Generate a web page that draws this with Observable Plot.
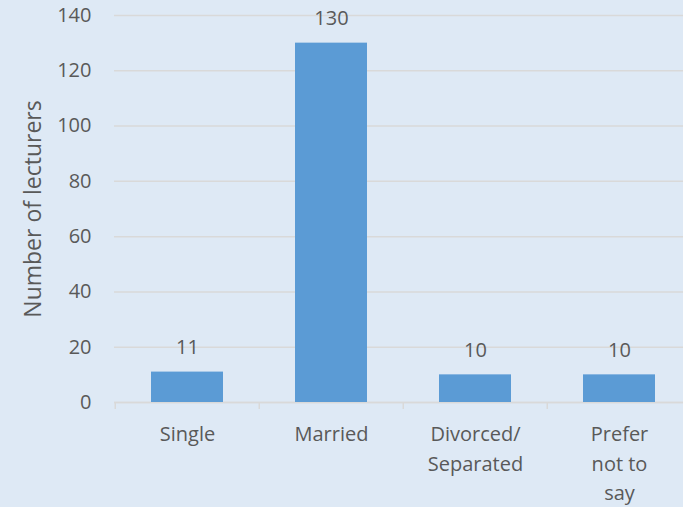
<!DOCTYPE html>
<html>
<head>
<meta charset="utf-8">
<script src="https://cdn.jsdelivr.net/npm/d3@7"></script>
<script src="https://cdn.jsdelivr.net/npm/@observablehq/plot@0.6"></script>
<style>
  html, body { margin: 0; padding: 0; background: #dee9f5; }
</style>
</head>
<body>
<div id="chart"></div>
<script>
const categories = ["Single", "Married", "Divorced/\nSeparated", "Prefer\nnot to\nsay"];
const values = [11, 130, 10, 10];
const yTicks = [0, 20, 40, 60, 80, 100, 120, 140];
const yLabel = "Number of lecturers";

const data = categories.map((c, i) => ({category: c, value: values[i]}));
const textColor = "#595959";

const chart = Plot.plot({
  width: 683,
  height: 507,
  marginLeft: 114,
  marginTop: 15,
  marginBottom: 105,
  marginRight: 0,
  style: {background: "#dee9f5", fontFamily: "'Open Sans', sans-serif", fontSize: "20px", color: textColor},
  x: {domain: categories, range: [114, 692.5], paddingInner: 0.5, paddingOuter: 0.25, label: null},
  y: {domain: [0, 140], label: null},
  marks: [
    Plot.gridY(yTicks, {stroke: "#d9d9d9", strokeOpacity: 1, strokeWidth: 1.5}),
    Plot.ruleY([0], {stroke: "#d9d9d9", strokeWidth: 1.5}),
    Plot.axisX({ticks: categories, tickSize: 7, dx: -72.25, text: null, label: null, stroke: "#d9d9d9", strokeWidth: 1.5}),
    Plot.barY(data, {x: "category", y: "value", fill: "#5b9bd5"}),
    Plot.text(data, {x: "category", y: "value", text: d => String(d.value), lineAnchor: "bottom", dy: -18, fill: textColor, fontSize: 20}),
    Plot.axisX({tickSize: 0, tickPadding: 18, lineHeight: 1.47, fill: textColor, label: null, fontSize: 20}),
    Plot.axisY(yTicks, {tickSize: 0, tickPadding: 23, fill: textColor, label: null, fontSize: 20}),
    Plot.text([yLabel], {frameAnchor: "left", textAnchor: "middle", lineAnchor: "middle", rotate: -90, dx: -81, fill: textColor, fontSize: 23})
  ]
});
document.getElementById("chart").appendChild(chart);
</script>
</body>
</html>
